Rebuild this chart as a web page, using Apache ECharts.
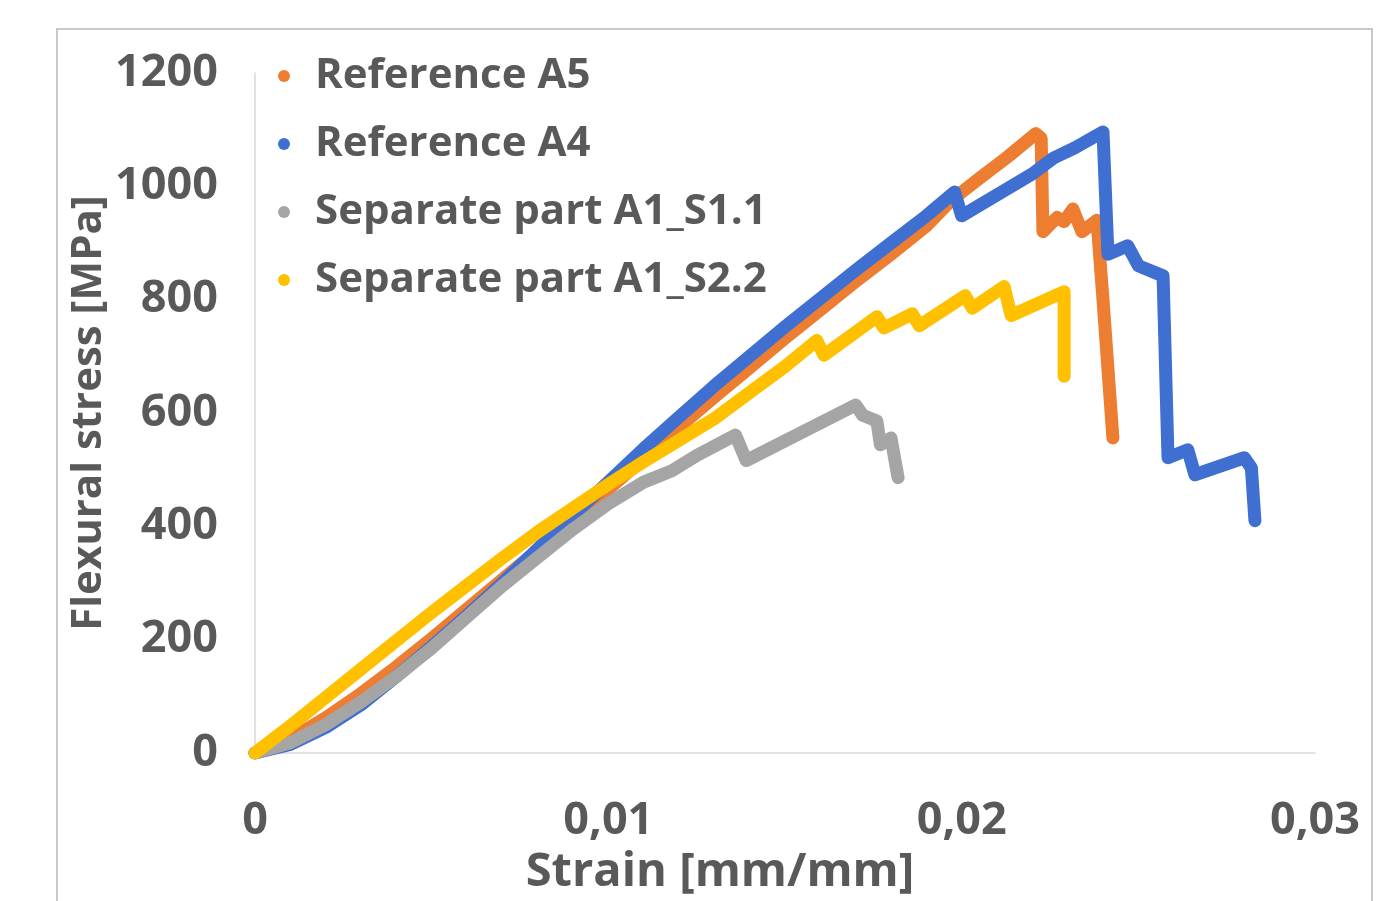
<!DOCTYPE html>
<html>
<head>
<meta charset="utf-8">
<script src="https://cdn.jsdelivr.net/npm/echarts@6/dist/echarts.min.js"></script>
<style>
    html, body { margin: 0; padding: 0; background: #fff; }
    #chart { width: 1376px; height: 901px; }
</style>
</head>
<body>
<div id="chart"></div>
<script>
// 图例名称
var seriesNames = ['Reference A5', 'Reference A4', 'Separate part A1_S1.1', 'Separate part A1_S2.2'];
var seriesColors = ['#ED7D31', '#3F6FD1', '#A5A5A5', '#FFC000'];

// 坐标轴刻度
var xTicks = [0, 0.01, 0.02, 0.03];
var yTicks = [0, 200, 400, 600, 800, 1000, 1200];

// Reference A5
var strainA5 = [0, 0.001, 0.002, 0.003, 0.004, 0.005, 0.006, 0.007, 0.008, 0.009, 0.010, 0.011, 0.012, 0.013,
    0.014, 0.015, 0.016, 0.017, 0.018, 0.019, 0.0197, 0.0205, 0.0213, 0.0221, 0.02225, 0.0223, 0.0227, 0.0229,
    0.02315, 0.0234, 0.02383, 0.0240, 0.02428];
var stressA5 = [0, 25, 62, 105, 152, 202, 254, 306, 358, 410, 465, 520, 575, 628,
    680, 732, 782, 832, 880, 930, 975, 1014, 1052, 1093, 1085, 920, 945, 938,
    960, 920, 940, 800, 556];

// Reference A4
var strainA4 = [0, 0.001, 0.002, 0.003, 0.004, 0.005, 0.006, 0.007, 0.008, 0.009, 0.010, 0.011, 0.012, 0.013,
    0.014, 0.015, 0.016, 0.017, 0.018, 0.019, 0.0198, 0.0200, 0.0210, 0.0220, 0.0226, 0.0232, 0.0240,
    0.02414, 0.0247, 0.0250, 0.0257, 0.02584, 0.0264, 0.0266, 0.0280, 0.0282, 0.0283];
var stressA4 = [0, 15, 45, 85, 135, 188, 243, 300, 360, 420, 478, 537, 593, 648,
    700, 752, 802, 852, 900, 948, 990, 948, 985, 1022, 1050, 1068, 1096,
    880, 895, 860, 842, 521, 535, 491, 521, 503, 410];

// Separate part A1_S1.1
var strainS11 = [0, 0.001, 0.002, 0.003, 0.004, 0.005, 0.006, 0.007, 0.008, 0.009, 0.010, 0.011, 0.0118,
    0.0125, 0.0136, 0.0139, 0.0170, 0.0172, 0.0176, 0.0177, 0.0180, 0.0182];
var stressS11 = [0, 18, 50, 90, 135, 185, 240, 295, 345, 395, 440, 478, 498,
    525, 561, 516, 614, 596, 586, 544, 556, 486];

// Separate part A1_S2.2
var strainS22 = [0, 0.001, 0.002, 0.003, 0.004, 0.005, 0.006, 0.007, 0.008, 0.009, 0.010, 0.011, 0.012, 0.013,
    0.014, 0.015, 0.0159, 0.0161, 0.0176, 0.0178, 0.0186, 0.0188, 0.0201, 0.0203, 0.0212, 0.0214, 0.0229, 0.0229];
var stressS22 = [0, 48, 98, 148, 198, 248, 296, 344, 390, 432, 474, 514, 552, 590,
    636, 682, 728, 702, 770, 750, 775, 754, 807, 785, 823, 772, 814, 665];

var fontName = '"Open Sans", sans-serif';
var textColor = '#595959';

window.onload = function () {
    initChart();
}

function toPairs(xs, ys) {
    return xs.map(function (x, i) { return [x, ys[i]]; });
}

function textOf(size) {
    return { fontSize: size, fontWeight: 'bold', color: textColor, fontFamily: fontName };
}

function initChart() {
    var chart = echarts.init(document.getElementById('chart'));
    var allData = [
        toPairs(strainA5, stressA5),
        toPairs(strainA4, stressA4),
        toPairs(strainS11, stressS11),
        toPairs(strainS22, stressS22)
    ];
    var series = [];
    for (var i = 0; i < seriesNames.length; i++) {
        series.push({
            name: seriesNames[i],
            type: 'line',
            data: allData[i],
            showSymbol: false,
            symbol: 'circle',
            color: seriesColors[i],
            lineStyle: { width: 13, color: seriesColors[i], cap: 'round', join: 'round' }
        });
    }
    chart.setOption({
        animation: false,
        backgroundColor: '#fff',
        textStyle: { fontFamily: fontName },
        graphic: [{
            type: 'rect',
            shape: { x: 57, y: 29, width: 1315, height: 900 },
            style: { fill: 'none', stroke: '#c8c8c8', lineWidth: 2 },
            silent: true
        }],
        grid: { left: 255, right: 61, top: 73, bottom: 144 },
        legend: {
            orient: 'vertical',
            left: 273,
            top: 48,
            icon: 'circle',
            itemWidth: 12,
            itemHeight: 12,
            itemGap: 22,
            textStyle: Object.assign(textOf(42), { lineHeight: 46, padding: [0, 0, 0, 20] }),
            data: seriesNames
        },
        xAxis: {
            type: 'value',
            min: xTicks[0],
            max: xTicks[xTicks.length - 1],
            interval: 0.01,
            name: 'Strain [mm/mm]',
            nameLocation: 'middle',
            nameGap: 96,
            nameMoveOverlap: false,
            nameTextStyle: Object.assign(textOf(47), { padding: [0, 130, 0, 0] }),
            axisLine: { lineStyle: { color: '#d9d9d9', width: 1.5 } },
            axisTick: { show: false },
            splitLine: { show: false },
            axisLabel: Object.assign(textOf(45), {
                margin: 46,
                formatter: function (v) { return String(+v.toFixed(2)).replace('.', ','); }
            })
        },
        yAxis: {
            type: 'value',
            min: yTicks[0],
            max: yTicks[yTicks.length - 1],
            interval: 200,
            name: 'Flexural stress [MPa]',
            nameLocation: 'middle',
            nameGap: 145,
            nameMoveOverlap: false,
            nameTextStyle: textOf(42),
            axisLine: { show: true, lineStyle: { color: '#d9d9d9', width: 1.5 } },
            axisTick: { show: false },
            splitLine: { show: false },
            axisLabel: Object.assign(textOf(45), {
                margin: 37,
                formatter: function (v) { return String(v); }
            })
        },
        series: series
    });
}
</script>
</body>
</html>
